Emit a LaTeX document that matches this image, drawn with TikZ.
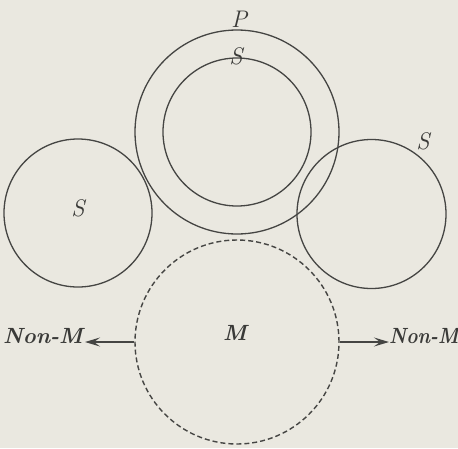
\documentclass[tikz,border=0pt]{standalone}
\usetikzlibrary{arrows.meta}
\definecolor{paper}{HTML}{EAE8E0}
\definecolor{ink}{HTML}{454543}
\definecolor{txt}{HTML}{3A3A38}
\begin{document}
\begin{tikzpicture}[x=1pt,y=-1pt,
  circ/.style={circle,draw=ink,line width=1.3pt,inner sep=0pt},
  dcirc/.style={circ,line width=1.4pt,dash pattern=on 5pt off 3pt},
  lab/.style={text=txt,inner sep=0pt,font=\fontsize{24}{24}\selectfont\itshape},
  blab/.style={text=txt,inner sep=0pt,font=\fontsize{22}{22}\selectfont\bfseries\itshape},
  arr/.style={draw=ink,line width=1.2pt,-{Stealth[length=15pt,width=9pt,inset=6pt]}}]
\useasboundingbox (0,0) rectangle (458,448);
\clip (0,0) rectangle (458,448);
\fill[paper] (0,0) rectangle (458,448);
% circles
\node[circ,minimum size=204pt] (P) at (237,132) {};
\node[circ,minimum size=148pt] (Si) at (237,132) {};
\node[circ,minimum size=148pt] (Sl) at (78,213) {};
\node[circ,minimum size=149pt] (Sr) at (371.5,214) {};
\node[dcirc,minimum size=204pt] (M) at (237,342) {};
% labels
\node[lab] (Pl) at (239,19) {P};
\node[lab] (Sil) at (236,56) {S};
\node[lab] (Sll) at (78,208) {S};
\node[lab] (Srl) at (423,141) {S};
\node[blab] (Ml) at (235,333) {M};
\node[blab,anchor=east] (NL) at (83,336) {Non-M};
\node[blab,anchor=west,xscale=0.87] (NR) at (389,336) {Non-M};
% arrows
\coordinate (LT) at (85,342);
\coordinate (RT) at (389,342);
\draw[arr] (M.west) -- (LT);
\draw[arr] (M.east) -- (RT);
\end{tikzpicture}
\end{document}
